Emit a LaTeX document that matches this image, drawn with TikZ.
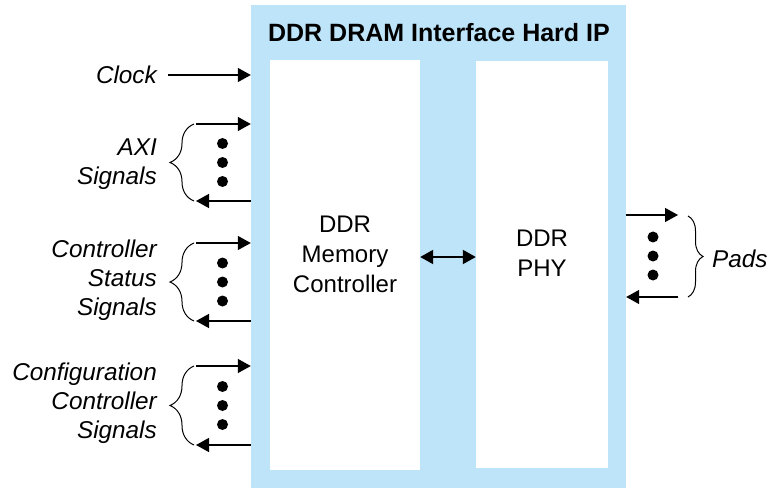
\documentclass[tikz,border=0pt]{standalone}
\usepackage{fontspec}
\setmainfont{Liberation Sans}
\usetikzlibrary{arrows.meta,decorations.pathreplacing}
\definecolor{hipblue}{RGB}{189,228,248}
\tikzset{
  sig/.style={line width=1.3pt,-{Triangle[length=13pt,width=14pt]}},
  link/.style={line width=2pt,{Triangle[length=13pt,width=14pt]}-{Triangle[length=13pt,width=14pt]}},
  lbl/.style={font=\fontsize{24.3}{29}\selectfont\itshape,align=right,anchor=east,inner sep=0pt},
  txt/.style={font=\fontsize{24}{30}\selectfont,align=center,inner sep=0pt},
  blk/.style={fill=white,draw=none,inner sep=0pt},
  dot/.style={circle,fill=black,inner sep=0pt,minimum size=11pt},
  grp/.style={decorate,decoration={brace,amplitude=#1},line width=1pt}
}
\begin{document}
\begin{tikzpicture}[x=1pt,y=-1pt]
\useasboundingbox (0,0) rectangle (771,489);
% hard IP block
\node[fill=hipblue,inner sep=0pt,minimum width=375pt,minimum height=483pt] (hardip) at (438.5,246.5) {};
\node[txt,font=\fontsize{25}{29}\selectfont\bfseries] (title) at (439,33) {DDR DRAM Interface Hard IP};
\node[blk,minimum width=150pt,minimum height=410pt] (mc) at (345,265) {};
\node[blk,minimum width=132pt,minimum height=407pt] (phy) at (542,264.5) {};
\node[txt] (mctext) at (345,254) {DDR\\Memory\\Controller};
\node[txt] (phytext) at (542,253) {DDR\\PHY};
\draw[link] (mc.east |- 0,257) -- (phy.west |- 0,257);
% clock
\node[lbl] (clock) at (157,75) {Clock};
\coordinate (clk) at (168,75);
\draw[sig] (clk) -- (clk -| hardip.west);
% signal groups
\node[lbl] (axi) at (157,164.5) {AXI\\Signals};
\node[lbl] (stat) at (157,280) {Controller\\Status\\Signals};
\node[lbl] (conf) at (157,403) {Configuration\\Controller\\Signals};
\foreach \n/\ya/\yb in {axi/124/201, stat/243/321, conf/366/445}{
  \coordinate (\n-in) at (196,\ya);
  \coordinate (\n-out) at (196,\yb);
  \draw[sig] (\n-in) -- (\n-in -| hardip.west);
  \draw[sig] (\n-out -| hardip.west) -- (\n-out);
  \draw[grp=24pt] (194,\yb) -- (194,\ya);
  \foreach \d in {-19,0,19}
    \node[dot] at (222.5,{(\ya+\yb)/2+\d}) {};
}
% pads
\coordinate (pad-out) at (678,215);
\coordinate (pad-in) at (678,297);
\draw[sig] (pad-out -| hardip.east) -- (pad-out);
\draw[sig] (pad-in) -- (pad-in -| hardip.east);
\draw[grp=15pt] (688,216) -- (688,297);
\foreach \d in {-19,0,19}
  \node[dot] at (653,256+\d) {};
\node[lbl,anchor=west] (pads) at (712,259) {Pads};
\end{tikzpicture}
\end{document}
